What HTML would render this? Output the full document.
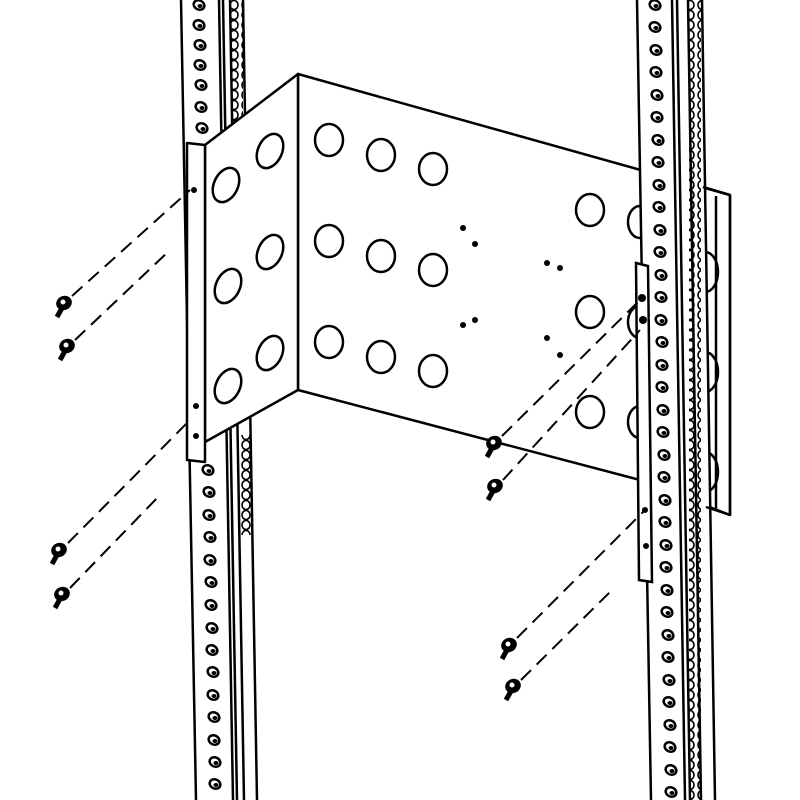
<!DOCTYPE html>
<html><head><style>html,body{margin:0;padding:0;background:#fff}svg{display:block}</style></head>
<body>
<svg width="800" height="800" viewBox="0 0 800 800" xmlns="http://www.w3.org/2000/svg">
<defs>
<g id="hole"><ellipse rx="5.5" ry="4.5" fill="none" stroke="#000" stroke-width="2.5" transform="rotate(25)"/><ellipse cx="1" cy="1" rx="2.5" ry="2" fill="#000"/></g>
<pattern id="sp" x="0" y="0" width="12" height="10" patternUnits="userSpaceOnUse"><ellipse cx="6" cy="5" rx="4" ry="4.5" fill="none" stroke="#000" stroke-width="1.6"/></pattern>
<g id="scr"><ellipse cx="0" cy="0" rx="8" ry="7" fill="#000" transform="rotate(-25)"/><circle r="2.5" cx="-1" cy="-1" fill="#fff"/><path d="M-2,5 L-7,14" stroke="#000" stroke-width="5"/></g>
</defs>
<g stroke="#000" stroke-width="2.5" fill="none">
<line x1="181" y1="0" x2="196" y2="800"/>
<line x1="219" y1="0" x2="233" y2="800"/>
<line x1="223" y1="0" x2="237" y2="800"/>
<line x1="230" y1="0" x2="244" y2="800"/>
<line x1="243" y1="0" x2="257" y2="800"/>
</g>
<g>
<use href="#hole" x="199" y="5"/><use href="#hole" x="199" y="25"/><use href="#hole" x="200" y="45"/><use href="#hole" x="200" y="65"/><use href="#hole" x="201" y="85"/><use href="#hole" x="201" y="107"/><use href="#hole" x="202" y="128"/>
<use href="#hole" x="208" y="470"/><use href="#hole" x="209" y="492"/><use href="#hole" x="209" y="515"/><use href="#hole" x="210" y="537"/><use href="#hole" x="210" y="560"/><use href="#hole" x="211" y="582"/><use href="#hole" x="211" y="605"/><use href="#hole" x="212" y="628"/><use href="#hole" x="212" y="650"/><use href="#hole" x="213" y="672"/><use href="#hole" x="213" y="695"/><use href="#hole" x="214" y="717"/><use href="#hole" x="214" y="740"/><use href="#hole" x="215" y="762"/><use href="#hole" x="215" y="784"/>
</g>
<rect x="231" y="0" width="12" height="130" fill="url(#sp)"/>
<rect x="240" y="435" width="12" height="100" fill="url(#sp)"/>
<!-- bracket -->
<g stroke="#000" stroke-width="2.5" fill="#fff" stroke-linejoin="round">
<polygon points="298,74 730,195 730,515 640,480 298,390"/>
<polygon points="205,145 298,74 298,390 205,442"/>
<polygon points="187,143 205,145 205,462 187,460"/>
</g>
<g stroke="#000" stroke-width="2.5" fill="none">
<ellipse cx="226" cy="185" rx="12" ry="18" transform="rotate(25 226 185)"/>
<ellipse cx="270" cy="151" rx="12" ry="18" transform="rotate(25 270 151)"/>
<ellipse cx="228" cy="286" rx="12" ry="18" transform="rotate(25 228 286)"/>
<ellipse cx="270" cy="252" rx="12" ry="18" transform="rotate(25 270 252)"/>
<ellipse cx="228" cy="386" rx="12" ry="18" transform="rotate(25 228 386)"/>
<ellipse cx="270" cy="353" rx="12" ry="18" transform="rotate(25 270 353)"/>
<ellipse cx="329" cy="140" rx="14" ry="16"/><ellipse cx="381" cy="155" rx="14" ry="16"/><ellipse cx="433" cy="169" rx="14" ry="16"/>
<ellipse cx="329" cy="241" rx="14" ry="16"/><ellipse cx="381" cy="256" rx="14" ry="16"/><ellipse cx="433" cy="270" rx="14" ry="16"/>
<ellipse cx="329" cy="342" rx="14" ry="16"/><ellipse cx="381" cy="357" rx="14" ry="16"/><ellipse cx="433" cy="371" rx="14" ry="16"/>
<ellipse cx="590" cy="210" rx="14" ry="16"/><ellipse cx="590" cy="312" rx="14" ry="16"/><ellipse cx="590" cy="412" rx="14" ry="16"/>
<ellipse cx="640" cy="222" rx="12" ry="16"/><ellipse cx="640" cy="322" rx="12" ry="16"/><ellipse cx="640" cy="422" rx="12" ry="16"/>
<ellipse cx="705" cy="272" rx="13" ry="20"/><ellipse cx="705" cy="372" rx="13" ry="20"/><ellipse cx="705" cy="472" rx="13" ry="20"/>
</g>
<g fill="#000">
<circle cx="463" cy="228" r="3"/><circle cx="475" cy="244" r="3"/><circle cx="547" cy="263" r="3"/><circle cx="560" cy="268" r="3"/>
<circle cx="463" cy="325" r="3"/><circle cx="475" cy="320" r="3"/><circle cx="547" cy="338" r="3"/><circle cx="560" cy="355" r="3"/>
<circle cx="194" cy="190" r="3"/><circle cx="196" cy="406" r="3"/><circle cx="196" cy="436" r="3"/>
</g>
<!-- right rack in front -->
<polygon points="637,0 702,0 715,800 651,800" fill="#fff"/>
<g stroke="#000" stroke-width="2.5" fill="none">
<line x1="637" y1="0" x2="651" y2="800"/>
<line x1="672" y1="0" x2="685" y2="800"/>
<line x1="677" y1="0" x2="690" y2="800"/>
<line x1="688" y1="0" x2="701" y2="800"/>
<line x1="702" y1="0" x2="715" y2="800"/>
</g>
<rect x="689" y="0" width="12" height="800" fill="url(#sp)"/>
<g>
<use href="#hole" x="655" y="5"/><use href="#hole" x="655" y="27"/><use href="#hole" x="656" y="50"/><use href="#hole" x="656" y="72"/><use href="#hole" x="657" y="95"/><use href="#hole" x="657" y="117"/><use href="#hole" x="658" y="140"/><use href="#hole" x="658" y="162"/><use href="#hole" x="659" y="185"/><use href="#hole" x="659" y="207"/><use href="#hole" x="660" y="230"/><use href="#hole" x="660" y="252"/><use href="#hole" x="661" y="275"/><use href="#hole" x="661" y="297"/><use href="#hole" x="661" y="320"/><use href="#hole" x="662" y="342"/><use href="#hole" x="662" y="365"/><use href="#hole" x="662" y="387"/><use href="#hole" x="663" y="410"/><use href="#hole" x="663" y="432"/><use href="#hole" x="664" y="455"/><use href="#hole" x="664" y="477"/><use href="#hole" x="665" y="500"/><use href="#hole" x="665" y="522"/><use href="#hole" x="666" y="545"/><use href="#hole" x="666" y="567"/><use href="#hole" x="667" y="590"/><use href="#hole" x="667" y="612"/><use href="#hole" x="668" y="635"/><use href="#hole" x="668" y="657"/><use href="#hole" x="669" y="680"/><use href="#hole" x="669" y="702"/><use href="#hole" x="670" y="725"/><use href="#hole" x="670" y="747"/><use href="#hole" x="671" y="770"/><use href="#hole" x="671" y="792"/>
</g>
<!-- bracket right end visible beyond rack -->
<g stroke="#000" stroke-width="2.5" fill="none">
<line x1="703" y1="187" x2="730" y2="195"/>
<line x1="730" y1="195" x2="730" y2="515"/>
<line x1="706" y1="507" x2="730" y2="515"/>
<line x1="716" y1="196" x2="716" y2="510"/>
</g>
<!-- right flange -->
<polygon points="636,263 648,266 652,582 639,580" stroke="#000" stroke-width="2.5" fill="#fff"/>
<g fill="#000"><circle cx="642" cy="298" r="4"/><circle cx="643" cy="320" r="4"/><circle cx="645" cy="510" r="3"/><circle cx="646" cy="546" r="3"/></g>
<!-- dashed lines -->
<g stroke="#000" stroke-width="2" stroke-dasharray="14,8" fill="none">
<line x1="72" y1="296" x2="190" y2="190"/>
<line x1="75" y1="340" x2="170" y2="250"/>
<line x1="68" y1="543" x2="190" y2="420"/>
<line x1="70" y1="588" x2="160" y2="495"/>
<line x1="502" y1="436" x2="640" y2="300"/>
<line x1="503" y1="480" x2="640" y2="330"/>
<line x1="517" y1="638" x2="645" y2="510"/>
<line x1="521" y1="680" x2="612" y2="590"/>
</g>
<use href="#scr" x="64" y="303"/><use href="#scr" x="67" y="346"/><use href="#scr" x="59" y="550"/><use href="#scr" x="62" y="594"/>
<use href="#scr" x="494" y="443"/><use href="#scr" x="495" y="486"/><use href="#scr" x="509" y="645"/><use href="#scr" x="513" y="686"/>
</svg>
</body></html>
